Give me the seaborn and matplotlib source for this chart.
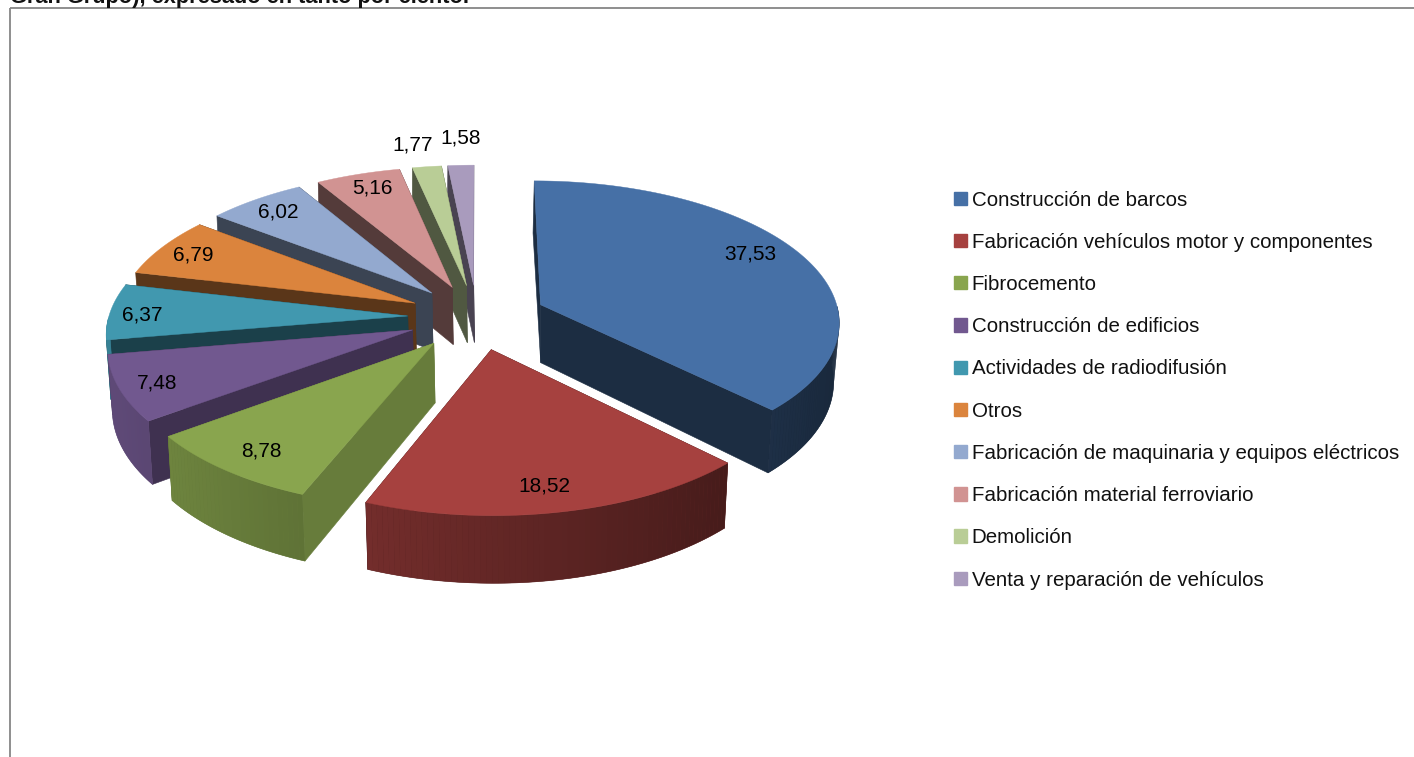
import numpy as np
import seaborn as sns
import matplotlib.pyplot as plt
from matplotlib.collections import PolyCollection
from matplotlib.patches import Patch, Polygon, Rectangle

categories = [
    "Construcción de barcos",
    "Fabricación vehículos motor y componentes",
    "Fibrocemento",
    "Construcción de edificios",
    "Actividades de radiodifusión",
    "Otros",
    "Fabricación de maquinaria y equipos eléctricos",
    "Fabricación material ferroviario",
    "Demolición",
    "Venta y reparación de vehículos",
]
values = [37.53, 18.52, 8.78, 7.48, 6.37, 6.79, 6.02, 5.16, 1.77, 1.58]
value_labels = ["37,53", "18,52", "8,78", "7,48", "6,37", "6,79", "6,02", "5,16", "1,77", "1,58"]
colors = ["#4670A6", "#A6413F", "#89A54E", "#71588F", "#4198AF",
          "#DB843D", "#93A9CF", "#D19392", "#B9CD96", "#A99BBD"]

# layout, in pixels of the final image
wall_shade = [0.40, 0.40, 0.75, 0.56, 0.42, 0.41, 0.40, 0.40, 0.43, 0.43]
label_pos = [(750, 254), (544, 486), (261, 451), (157, 383), (142, 315),
             (193, 255), (278, 212), (372, 188), (413, 145), (461, 138)]
CX, CY = 477, 317
RX, RY = 299, 140
EXPLODE = 0.232
DEPTH = 58.5
PERSP = 0.11

sns.set_theme(style="white")
plt.rcParams["font.family"] = ["Liberation Sans", "DejaVu Sans"]
palette = sns.color_palette(colors)


def project(u, v):
    s = 1 / (1 + PERSP * v)
    return CX + RX * u * s, CY - RY * v * s


def down(x, y, u, v):
    # same point on the bottom of the slice
    s = 1 / (1 + PERSP * v)
    k = np.where(np.asarray(x) < 560, 0.01, 0.02)
    dx = -k * (x - 560) - 1.5 * np.maximum(v - 0.1, 0)
    return x + dx, y + DEPTH * s


def shade(c, f):
    return tuple(np.array(c) * f)


fig, ax = plt.subplots(figsize=(14.14, 7.57), dpi=100)
ax.set_position([0, 0, 1, 1])
ax.set_xlim(0, 1414)
ax.set_ylim(757, 0)
ax.axis("off")

ax.add_patch(Rectangle((10, 8), 1600, 900, fill=False, ec="#868686", lw=1.3, zorder=0))
ax.text(10, 3, "Gran Grupo), expresado en tanto por ciento.",
        fontsize=15.7, fontweight="bold", color="#111111", va="baseline", ha="left")

edges = np.concatenate([[0], np.cumsum(values)]) / np.sum(values) * 2 * np.pi
mids = (edges[:-1] + edges[1:]) / 2
order = np.argsort(-np.cos(mids))

for n, i in enumerate(order):
    a0, a1, mid = edges[i], edges[i + 1], mids[i]
    ou, ov = EXPLODE * np.sin(mid), EXPLODE * np.cos(mid)
    th = np.linspace(a0, a1, max(int((a1 - a0) * 60), 6))
    us = ou + np.sin(th)
    vs = ov + np.cos(th)
    ax_, ay_ = project(ou, ov)
    abx, aby = down(ax_, ay_, ou, ov)
    xs, ys = project(us, vs)
    bx, by = down(xs, ys, us, vs)
    z = 2 + n * 3
    dark = shade(palette[i], wall_shade[i])

    # radial walls
    for k in (0, -1):
        ax.add_patch(Polygon([(ax_, ay_), (xs[k], ys[k]), (bx[k], by[k]), (abx, aby)],
                             fc=dark, ec=dark, lw=0.4, zorder=z))

    # outer wall, only the part facing the viewer, shaded along the arc
    front = np.where(np.cos(th) <= 0)[0]
    if len(front) > 1:
        quads, quad_cols = [], []
        for k in front[:-1]:
            quads.append([(xs[k], ys[k]), (xs[k + 1], ys[k + 1]), (bx[k + 1], by[k + 1]), (bx[k], by[k])])
            quad_cols.append(shade(palette[i], 0.6 - 0.25 * np.sin((th[k] + th[k + 1]) / 2)))
        under = list(zip(xs[front], ys[front])) + list(zip(bx[front], by[front]))[::-1]
        mean_col = tuple(np.mean(quad_cols, axis=0))
        ax.add_patch(Polygon(under, fc=mean_col, ec=mean_col, lw=0.4, zorder=z + 1))
        ax.add_collection(PolyCollection(quads, facecolors=quad_cols, edgecolors="none",
                                         linewidths=0, zorder=z + 1))

    # top face
    top = [(ax_, ay_)] + list(zip(xs, ys))
    ax.add_patch(Polygon(top, fc=palette[i], ec=palette[i], lw=0.3, zorder=z + 2))

for (x, y), lab in zip(label_pos, value_labels):
    ax.text(x, y, lab, fontsize=15, color="black", ha="center", va="center", zorder=60)

handles = [Patch(fc=c, ec=c, label=name) for c, name in zip(palette, categories)]
leg = ax.legend(handles=handles, loc="upper left", bbox_to_anchor=(954 / 1414, 1 - 190.5 / 757),
                frameon=False, fontsize=14.8, handlelength=0.62, handleheight=0.62,
                handletextpad=0.24, labelspacing=1.13, borderpad=0, borderaxespad=0)
for t in leg.get_texts():
    t.set_color("#111111")

fig.savefig("out.png", dpi=100)
